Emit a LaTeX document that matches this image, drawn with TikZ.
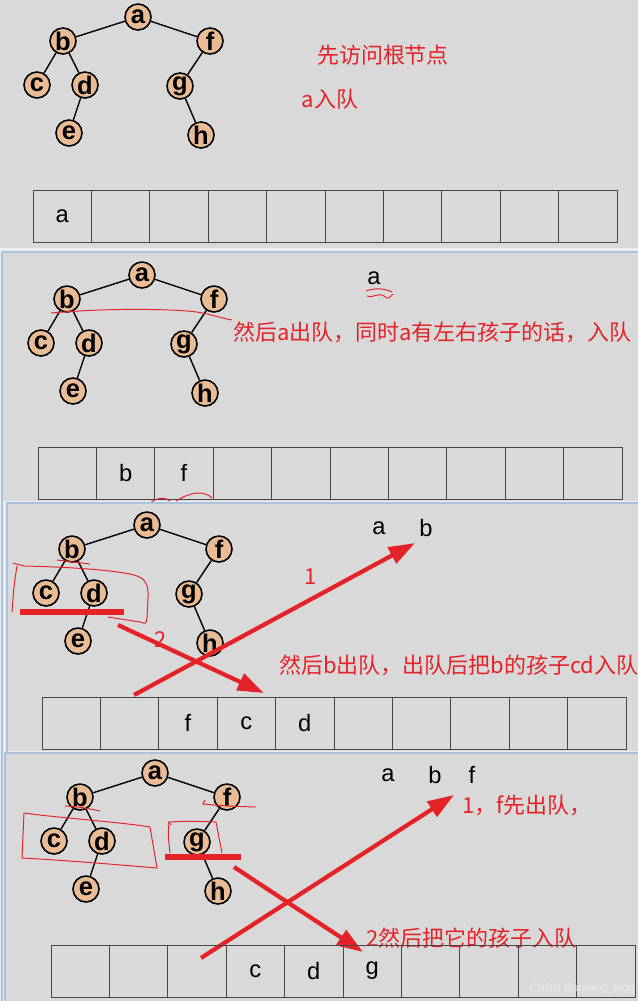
\documentclass[tikz,border=0pt]{standalone}
\usepackage{fontspec}
\setmainfont{Liberation Sans}
\newfontfamily\cjk{Noto Sans CJK SC}
\usepackage{xcolor}
\usetikzlibrary{arrows.meta}

\definecolor{panelgray}{RGB}{217,217,217}
\definecolor{basegray}{RGB}{234,237,241}
\definecolor{edgeblue}{RGB}{170,194,220}
\definecolor{nodetan}{RGB}{233,188,150}
\definecolor{redink}{RGB}{228,34,40}
\definecolor{cellline}{RGB}{70,70,70}

\tikzset{
  vert/.style={circle, draw=black, line width=0.9pt, fill=nodetan, minimum size=0.52cm, inner sep=0pt, font=\bfseries\fontsize{14.5}{14}\selectfont},
  treeedge/.style={draw=black, line width=0.8pt},
  cell/.style={draw=cellline, line width=0.5pt, minimum width=1.168cm, minimum height=1.04cm, inner sep=0pt, font=\fontsize{13.5}{13}\selectfont},
  note/.style={text=redink, font=\cjk\fontsize{12.5}{14}\selectfont, inner sep=0pt},
  seen/.style={font=\fontsize{13.5}{13}\selectfont, inner sep=0pt},
  pen/.style={draw=redink, line width=0.55pt},
  marker/.style={draw=redink, line width=3.4pt},
  bigarrow/.style={draw=redink, line width=2.4pt, -{Triangle[length=15pt,width=10pt]}},
  panelbox/.style={fill=panelgray},
  paneledge/.style={draw=edgeblue, line width=1pt}
}

% tree: prefix, root x, root y
\newcommand{\bintree}[3]{%
  \node[vert] (#1a) at (#2,#3) {a};
  \node[vert] (#1b) at ([shift={(-75,24)}]#1a.center) {b};
  \node[vert] (#1f) at ([shift={(72,24)}]#1a.center) {f};
  \node[vert] (#1c) at ([shift={(-101,68)}]#1a.center) {c};
  \node[vert] (#1d) at ([shift={(-53,68)}]#1a.center) {d};
  \node[vert] (#1g) at ([shift={(42,69)}]#1a.center) {g};
  \node[vert] (#1e) at ([shift={(-69,116)}]#1a.center) {e};
  \node[vert] (#1h) at ([shift={(63,118)}]#1a.center) {h};
  \draw[treeedge] (#1a) -- (#1b) (#1a) -- (#1f) (#1b) -- (#1c) (#1b) -- (#1d)
    (#1d) -- (#1e) (#1f) -- (#1g) (#1g) -- (#1h);
}
% queue: prefix, left x, centre y, cell texts
\newcommand{\queuerow}[4]{%
  \foreach \t [count=\i from 0] in {#4}
    \node[cell] (#1-\i) at ({#2+29.2+58.4*\i},#3) {\t};
}

\begin{document}
\begin{tikzpicture}[x=0.02cm,y=-0.02cm]
\useasboundingbox (0,0) rectangle (638,1001);
\fill[basegray] (0,0) rectangle (638,1001);

% step 1
\fill[panelbox] (0,0) rectangle (638,248);
\bintree{p1}{138}{17}
\node[note] (p1say) at (383,55) {先访问根节点};
\node[note] (p1in) at (330,99) {a入队};
\queuerow{q1}{33}{216}{a,{},{},{},{},{},{},{},{},{}}

% step 2
\fill[panelbox] (2,252) rectangle (638,501);
\draw[paneledge] (2,1001) -- (2,252) -- (638,252);
\bintree{p2}{142}{275}
\node[seen] (p2out) at (374,278) {a};
\draw[pen] (366,291) .. controls (374,288) and (384,288) .. (392,292);
\draw[pen] (367,296) .. controls (372,299) and (378,292) .. (384,296) .. controls (388,299) .. (393,294);
\draw[pen] (51,313) .. controls (110,308) and (160,309) .. (187,311) .. controls (205,312) and (220,318) .. (232,320);
\node[note, anchor=west] (p2say) at (233,332) {然后a出队，同时a有左右孩子的话，入队};
\queuerow{q2}{38}{473}{{},b,f,{},{},{},{},{},{},{}}
\draw[pen] (150,503) .. controls (158,497) and (165,497) .. (170,501);
\draw[pen] (176,501) .. controls (190,492) and (204,490) .. (212,498);

% step 3
\fill[panelbox] (7,503) rectangle (638,751);
\draw[paneledge] (7,1001) -- (7,503) -- (638,503);
\bintree{p3}{147}{525}
\node[seen] (p3out1) at (379,528) {a};
\node[seen] (p3out2) at (426,528) {b};
\draw[pen] (57,560) -- (90,564);
\draw[pen] (13,563) -- (24,566) .. controls (70,567) and (110,570) .. (130,574)
  .. controls (144,577) and (149,582) .. (148,598) -- (147,618)
  .. controls (146,624) .. (140,622) -- (108,617);
\draw[pen] (17,566) .. controls (14,585) .. (12,612);
\draw[marker] (20,612) -- (124,612);
\coordinate (p3from1) at (134,695);
\coordinate (p3to1) at (415,543);
\coordinate (p3from2) at (118,625);
\coordinate (p3to2) at (264,693);
\draw[bigarrow] (p3from1) -- (p3to1);
\draw[bigarrow] (p3from2) -- (p3to2);
\node[note] (p3one) at (311,577) {1};
\node[note] (p3two) at (161,640) {2};
\node[note, anchor=west] (p3say) at (279,665) {然后b出队，出队后把b的孩子cd入队};
\queuerow{q3}{42}{723}{{},{},f,c,d,{},{},{},{},{}}

% step 4
\fill[panelbox] (5,753) rectangle (638,1001);
\draw[paneledge] (5,1001) -- (5,753) -- (638,753);
\bintree{p4}{155}{773}
\node[seen] (p4out1) at (388,775) {a};
\node[seen] (p4out2) at (435,775) {b};
\node[seen] (p4out3) at (472,775) {f};
\draw[pen] (65,806) .. controls (80,807) .. (100,811);
\draw[pen] (205,800) -- (203,804) .. controls (225,806) .. (256,807);
\draw[pen] (24,813) .. controls (60,818) and (120,822) .. (150,827) -- (157,868)
  .. controls (110,864) and (60,860) .. (22,858) -- (24,813);
\draw[pen] (171,825) -- (169,822) .. controls (190,821) .. (216,822) -- (222,853);
\draw[pen] (169,822) .. controls (168,835) .. (170,853);
\draw[marker] (165,857) -- (241,857);
\coordinate (p4from1) at (201,958);
\coordinate (p4to1) at (454,795);
\coordinate (p4from2) at (234,867);
\coordinate (p4to2) at (363,952);
\draw[bigarrow] (p4from1) -- (p4to1);
\draw[bigarrow] (p4from2) -- (p4to2);
\node[note, anchor=west] (p4say1) at (462,805) {1，f先出队，};
\node[note, anchor=west] (p4say2) at (366,938) {2然后把它的孩子入队};
\queuerow{q4}{51}{971}{{},{},{},c,d,g,{},{},{},{}}
\node[text=white!85!gray, font=\fontsize{6.3}{7}\selectfont, inner sep=0pt] (mark) at (582,989) {CSDN @uxiang\_blog};
\end{tikzpicture}
\end{document}
